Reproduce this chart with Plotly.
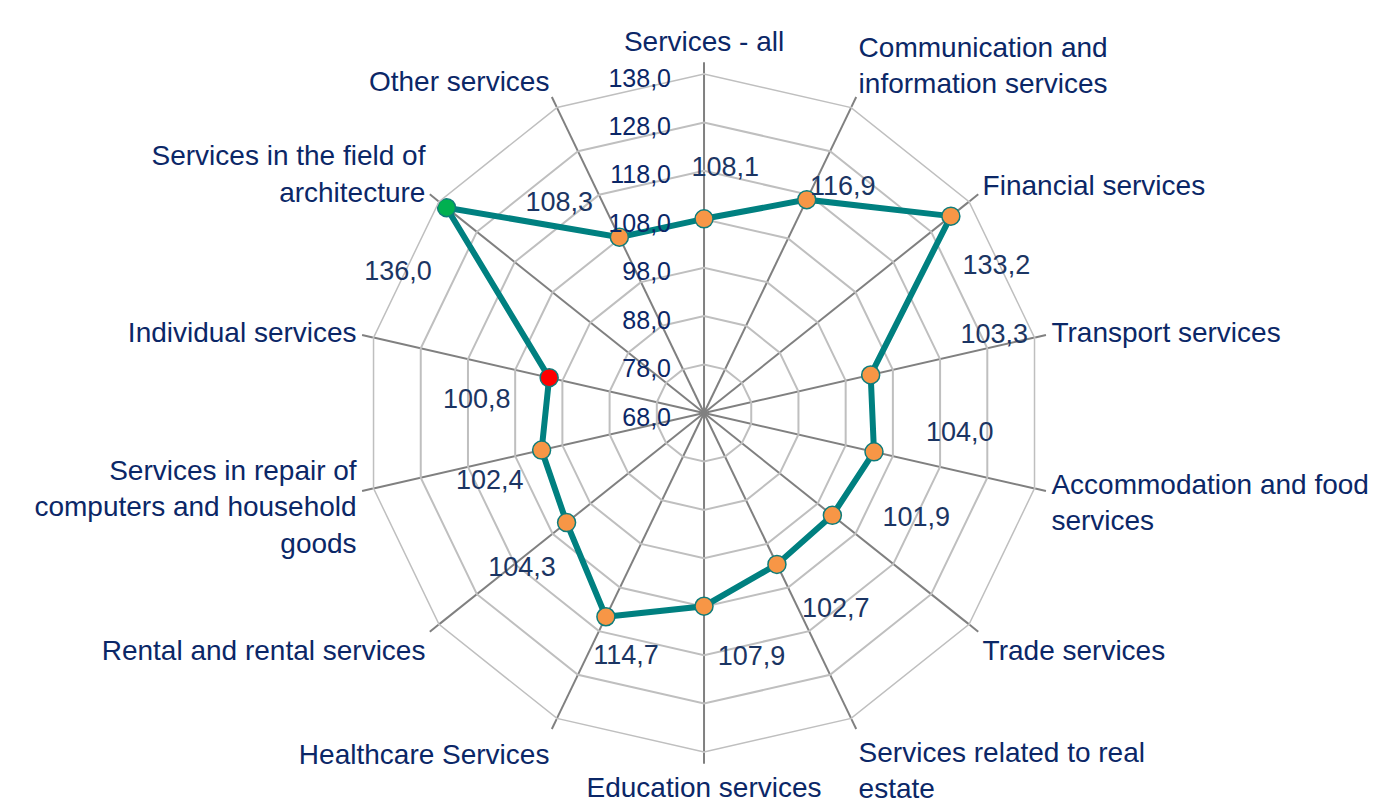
import plotly.graph_objects as go

categories = [
    "Services - all",
    "Communication and<br>information services",
    "Financial services",
    "Transport services",
    "Accommodation and food<br>services",
    "Trade services",
    "Services related to real<br>estate",
    "Education services",
    "Healthcare Services",
    "Rental and rental services",
    "Services in repair of<br>computers and household<br>goods",
    "Individual services",
    "Services in the field of<br>architecture",
    "Other services",
]
values = [108.1, 116.9, 133.2, 103.3, 104.0, 101.9, 102.7, 107.9, 114.7, 104.3, 102.4, 100.8, 136.0, 108.3]
radial_ticks = [68, 78, 88, 98, 108, 118, 128, 138]

# label placement (Excel-style data labels sit away from the markers)
label_shift = [5, 6, 12, -2, -8, -12, -8, -11, -8, -2, -5, -10, -14, -9]
label_r = [118.5, 122.5, 135.5, 130.0, 121.0, 117.0, 117.0, 119.5, 121.0, 117.5, 114.5, 115.0, 137.5, 120.5]

NAVY = "#0B2767"
LABEL = "#1B3563"
FONT = "Liberation Sans, Arial"
step = 360 / len(categories)
angles = [i * step for i in range(len(categories))]

marker_colors = ["#F79646"] * len(values)
marker_colors[categories.index("Services in the field of<br>architecture")] = "#00B050"
marker_colors[categories.index("Individual services")] = "#FF0000"

fig = go.Figure()
fig.add_trace(go.Scatterpolar(
    r=values + values[:1], theta=categories + categories[:1],
    mode="lines",
    line=dict(color="#008080", width=6),
    hoverinfo="skip",
))
fig.add_trace(go.Scatterpolar(
    r=values, theta=categories,
    mode="markers",
    marker=dict(size=18, color=marker_colors, line=dict(color="#0E7C7B", width=1.5)),
))
# data labels on an overlaid polar with a numeric angle axis
fig.add_trace(go.Scatterpolar(
    r=label_r, theta=[a + s for a, s in zip(angles, label_shift)],
    mode="text", subplot="polar2",
    text=[f"{v:.1f}".replace(".", ",") for v in values],
    textfont=dict(family=FONT, size=27, color=LABEL),
    hoverinfo="skip",
))

domain = dict(x=[0.2561, 0.7425], y=[0.0815, 0.9185])
fig.update_layout(
    width=1394, height=810,
    margin=dict(l=0, r=0, t=0, b=0),
    paper_bgcolor="white",
    showlegend=False,
    separators=",.",
    font=dict(family=FONT, color=NAVY),
    polar=dict(
        domain=domain,
        bgcolor="white",
        gridshape="linear",
        angularaxis=dict(
            rotation=90, direction="clockwise",
            tickfont=dict(size=28, color=NAVY),
            showline=True, linecolor="#BFBFBF", linewidth=1.5,
            gridcolor="#808080", gridwidth=1.5,
            ticks="outside", ticklen=11, tickcolor="#808080", tickwidth=1.5,
        ),
        radialaxis=dict(
            range=[68, 138], tickmode="array", tickvals=radial_ticks,
            tickformat=".1f", angle=90, side="counterclockwise",
            tickfont=dict(size=25, color=NAVY),
            showline=False, gridcolor="#BFBFBF", gridwidth=1.5,
            ticks="outside", ticklen=10, tickcolor="rgba(0,0,0,0)",
        ),
    ),
    polar2=dict(
        domain=domain,
        bgcolor="rgba(0,0,0,0)",
        angularaxis=dict(rotation=90, direction="clockwise", visible=False),
        radialaxis=dict(range=[68, 138], visible=False),
    ),
)

fig.write_html("out.html")
